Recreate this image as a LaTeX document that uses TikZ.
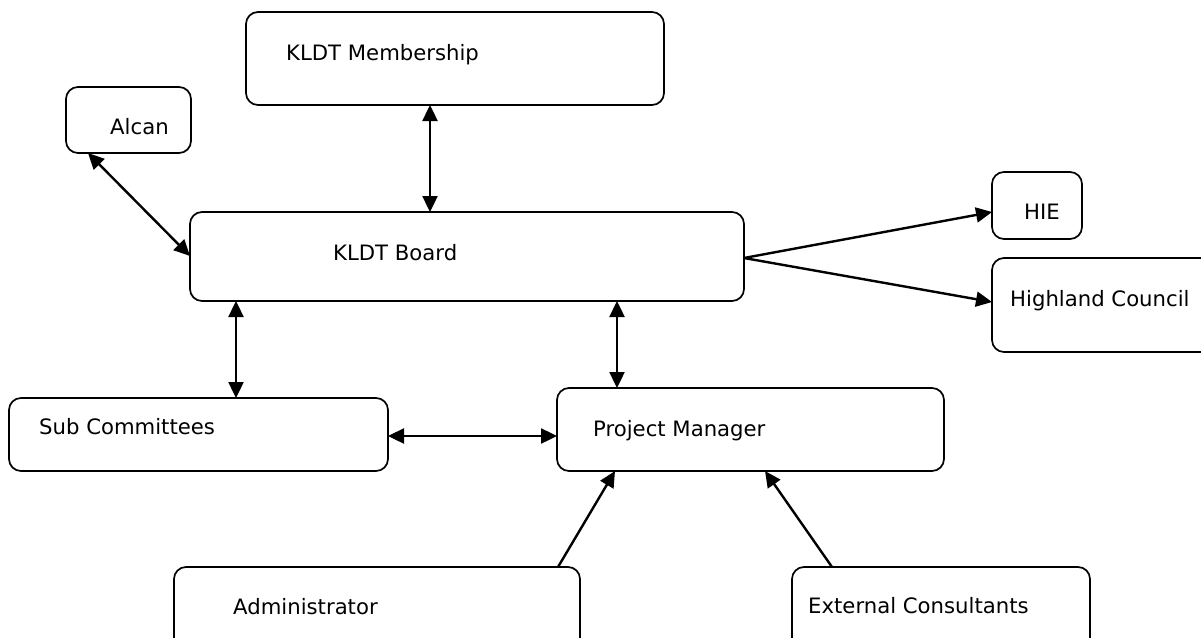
\documentclass[tikz,border=0pt]{standalone}
\usepackage{fontspec}
\setmainfont{DejaVu Sans}
\usetikzlibrary{arrows.meta}
\begin{document}
\begin{tikzpicture}[x=1pt,y=-1pt,
  box/.style={draw,line width=1.7pt,rounded corners=12pt,inner sep=0pt,outer sep=0pt},
  txt/.style={anchor=base west,inner sep=0pt,font=\fontsize{21.2}{25}\selectfont},
  conn/.style={line width=2.4pt,-{Triangle[length=16pt,width=15pt]}},
  bconn/.style={line width=2.4pt,{Triangle[length=16pt,width=15pt]}-{Triangle[length=16pt,width=15pt]}}]
\useasboundingbox (0,0) rectangle (1201,637);
\clip (0,0) rectangle (1201,637);
% boxes
\node[box,minimum width=418pt,minimum height=93pt] (memb) at (455,58.5) {};
\node[box,minimum width=125pt,minimum height=66pt] (alcan) at (128.5,120) {};
\node[box,minimum width=554pt,minimum height=89pt] (board) at (467,256.5) {};
\node[box,minimum width=90pt,minimum height=67pt] (hie) at (1037,205.5) {};
\node[box,minimum width=240pt,minimum height=94pt] (hc) at (1112,305) {};
\node[box,minimum width=379pt,minimum height=73pt] (sub) at (198.5,434.5) {};
\node[box,minimum width=387pt,minimum height=83pt] (pm) at (750.5,429.5) {};
\node[box,minimum width=406pt,minimum height=100pt] (admin) at (377,617) {};
\node[box,minimum width=298pt,minimum height=100pt] (ext) at (941,617) {};
% texts
\node[txt] (tmemb) at (286,60) {KLDT Membership};
\node[txt] (talcan) at (110,134) {Alcan};
\node[txt] (tboard) at (333,260) {KLDT Board};
\node[txt] (thie) at (1024,219) {HIE};
\node[txt] (thc) at (1010,306) {Highland Council};
\node[txt] (tsub) at (39,434) {Sub Committees};
\node[txt] (tpm) at (593,436) {Project Manager};
\node[txt] (tadmin) at (233,614) {Administrator};
\node[txt] (text) at (808,613) {External Consultants};
% connectors
\draw[bconn] (memb.south -| 430,0) -- (board.north -| 430,0);
\draw[bconn] (alcan.south -| 88,0) -- (board.west |- 0,256);
\draw[conn] (board.east |- 0,258) -- (hie.west |- 0,212);
\draw[conn] (board.east |- 0,258) -- (hc.west |- 0,302);
\draw[bconn] (board.south -| 236,0) -- (sub.north -| 236,0);
\draw[bconn] (board.south -| 617,0) -- (pm.north -| 617,0);
\draw[bconn] (sub.east |- 0,436) -- (pm.west |- 0,436);
\draw[conn] (admin.north -| 558,0) -- (pm.south -| 615,0);
\draw[conn] (ext.north -| 832,0) -- (pm.south -| 765,0);
\end{tikzpicture}
\end{document}
